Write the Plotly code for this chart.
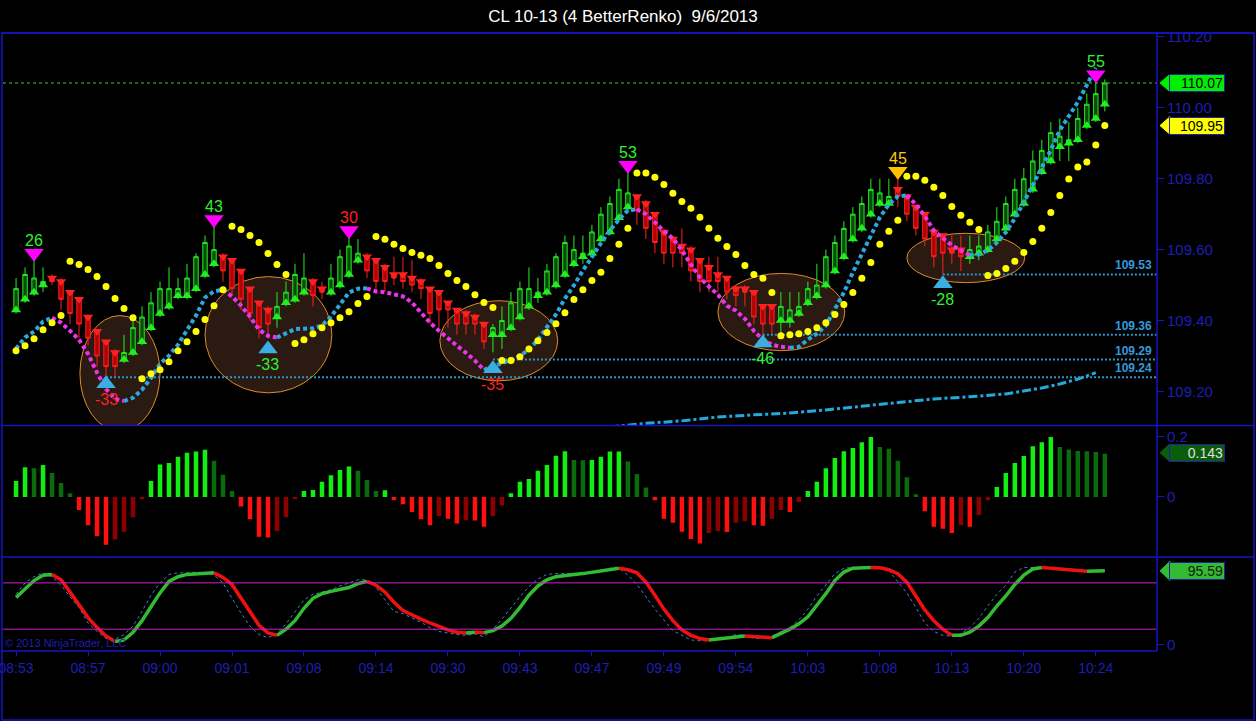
import plotly.graph_objects as go
from plotly.subplots import make_subplots

title = "CL 10-13 (4 BetterRenko)  9/6/2013"
times = ["08:53", "08:57", "09:00", "09:01", "09:08", "09:14", "09:30", "09:43",
         "09:47", "09:49", "09:54", "10:03", "10:08", "10:13", "10:20", "10:24"]
tick_bars = list(range(0, 121, 8))

# renko bars (open, high, low, close)
opens = [109.43, 109.46, 109.48, 109.50, 109.52, 109.51, 109.48, 109.46, 109.41, 109.37,
         109.34, 109.31, 109.29, 109.31, 109.34, 109.38, 109.42, 109.44, 109.47, 109.47,
         109.49, 109.53, 109.56, 109.58, 109.57, 109.54, 109.49, 109.45, 109.43, 109.41,
         109.45, 109.46, 109.48, 109.51, 109.49, 109.48, 109.50, 109.53, 109.57, 109.58,
         109.57, 109.55, 109.53, 109.53, 109.52, 109.51, 109.49, 109.48, 109.45, 109.43,
         109.42, 109.41, 109.39, 109.36, 109.36, 109.38, 109.41, 109.44, 109.47, 109.48,
         109.50, 109.53, 109.56, 109.58, 109.59, 109.63, 109.65, 109.69, 109.72, 109.75,
         109.73, 109.70, 109.65, 109.63, 109.61, 109.60, 109.57, 109.55, 109.53, 109.52,
         109.49, 109.49, 109.48, 109.44, 109.44, 109.40, 109.40, 109.42, 109.45, 109.47,
         109.50, 109.54, 109.58, 109.63, 109.66, 109.70, 109.73, 109.73, 109.77, 109.75,
         109.72, 109.70, 109.65, 109.64, 109.60, 109.60, 109.58, 109.59, 109.60, 109.63,
         109.66, 109.70, 109.73, 109.77, 109.82, 109.85, 109.89, 109.90, 109.91, 109.95,
         109.97, 110.01]
closes = [109.49, 109.53, 109.52, 109.51, 109.51, 109.46, 109.42, 109.39, 109.35, 109.30,
          109.27, 109.27, 109.31, 109.38, 109.41, 109.45, 109.49, 109.49, 109.49, 109.52,
          109.58, 109.62, 109.60, 109.54, 109.49, 109.46, 109.42, 109.38, 109.39, 109.44,
          109.48, 109.53, 109.52, 109.47, 109.48, 109.52, 109.58, 109.61, 109.59, 109.54,
          109.51, 109.51, 109.52, 109.51, 109.50, 109.49, 109.42, 109.43, 109.43, 109.39,
          109.39, 109.39, 109.34, 109.38, 109.40, 109.45, 109.49, 109.49, 109.48, 109.54,
          109.58, 109.62, 109.60, 109.59, 109.65, 109.70, 109.73, 109.77, 109.76, 109.71,
          109.66, 109.62, 109.59, 109.59, 109.59, 109.54, 109.51, 109.51, 109.51, 109.48,
          109.47, 109.48, 109.41, 109.39, 109.39, 109.44, 109.43, 109.44, 109.49, 109.50,
          109.58, 109.62, 109.66, 109.70, 109.73, 109.77, 109.76, 109.75, 109.75, 109.70,
          109.66, 109.63, 109.58, 109.59, 109.59, 109.58, 109.60, 109.61, 109.65, 109.68,
          109.73, 109.77, 109.80, 109.85, 109.88, 109.93, 109.92, 109.91, 109.97, 110.01,
          110.04, 110.07]
highs = [109.52, 109.55, 109.57, 109.55, 109.53, 109.52, 109.48, 109.46, 109.41, 109.37,
         109.34, 109.32, 109.36, 109.41, 109.44, 109.48, 109.51, 109.55, 109.52, 109.56,
         109.59, 109.64, 109.67, 109.59, 109.57, 109.54, 109.49, 109.45, 109.44, 109.48,
         109.51, 109.56, 109.59, 109.52, 109.51, 109.56, 109.60, 109.64, 109.63, 109.59,
         109.57, 109.56, 109.58, 109.58, 109.57, 109.52, 109.49, 109.48, 109.45, 109.43,
         109.43, 109.42, 109.39, 109.39, 109.44, 109.48, 109.51, 109.55, 109.52, 109.56,
         109.59, 109.64, 109.64, 109.64, 109.67, 109.72, 109.75, 109.80, 109.82, 109.75,
         109.74, 109.70, 109.66, 109.63, 109.66, 109.61, 109.57, 109.58, 109.58, 109.52,
         109.50, 109.50, 109.48, 109.44, 109.44, 109.48, 109.48, 109.48, 109.51, 109.56,
         109.60, 109.64, 109.68, 109.72, 109.75, 109.80, 109.80, 109.80, 109.82, 109.75,
         109.72, 109.70, 109.66, 109.64, 109.64, 109.64, 109.64, 109.64, 109.67, 109.72,
         109.75, 109.80, 109.83, 109.88, 109.91, 109.96, 109.97, 109.96, 110.00, 110.04,
         110.08, 110.08]
lows = [109.42, 109.45, 109.47, 109.48, 109.50, 109.43, 109.39, 109.35, 109.33, 109.27,
        109.23, 109.24, 109.28, 109.30, 109.33, 109.37, 109.41, 109.43, 109.46, 109.46,
        109.48, 109.52, 109.55, 109.51, 109.47, 109.43, 109.40, 109.35, 109.35, 109.38,
        109.44, 109.45, 109.47, 109.44, 109.46, 109.47, 109.49, 109.52, 109.56, 109.52,
        109.48, 109.48, 109.50, 109.49, 109.48, 109.46, 109.39, 109.38, 109.38, 109.36,
        109.36, 109.36, 109.32, 109.31, 109.32, 109.37, 109.40, 109.43, 109.45, 109.47,
        109.49, 109.52, 109.55, 109.56, 109.58, 109.62, 109.64, 109.68, 109.71, 109.67,
        109.63, 109.59, 109.56, 109.55, 109.55, 109.51, 109.48, 109.48, 109.48, 109.46,
        109.44, 109.44, 109.39, 109.36, 109.36, 109.36, 109.38, 109.41, 109.44, 109.46,
        109.49, 109.53, 109.57, 109.62, 109.65, 109.69, 109.72, 109.72, 109.72, 109.68,
        109.64, 109.61, 109.55, 109.53, 109.56, 109.54, 109.56, 109.57, 109.59, 109.62,
        109.65, 109.69, 109.72, 109.76, 109.81, 109.84, 109.85, 109.85, 109.90, 109.94,
        109.96, 109.99]

# yellow trailing stop
trail_stop = [109.315, 109.329, 109.349, 109.374, 109.394, 109.414, 109.567, 109.558, 109.544, 109.524,
              109.496, 109.462, 109.434, 109.408, 109.236, 109.250, 109.261, 109.284, 109.315, 109.340,
              109.369, 109.403, 109.442, 109.487, 109.666, 109.657, 109.640, 109.620, 109.589, 109.558,
              109.530, 109.335, 109.346, 109.363, 109.380, 109.394, 109.408, 109.425, 109.448, 109.468,
              109.637, 109.629, 109.615, 109.603, 109.592, 109.584, 109.575, 109.555, 109.533, 109.513,
              109.496, 109.473, 109.451, 109.437, 109.287, 109.287, 109.298, 109.320, 109.343, 109.366,
              109.391, 109.422, 109.459, 109.487, 109.513, 109.536, 109.575, 109.615, 109.660, 109.816,
              109.816, 109.804, 109.784, 109.759, 109.736, 109.717, 109.691, 109.660, 109.632, 109.609,
              109.586, 109.555, 109.530, 109.519, 109.479, 109.357, 109.360, 109.363, 109.369, 109.380,
              109.394, 109.417, 109.445, 109.479, 109.519, 109.564, 109.615, 109.652, 109.683, 109.807,
              109.807, 109.796, 109.776, 109.753, 109.722, 109.697, 109.677, 109.657, 109.527, 109.533,
              109.547, 109.567, 109.592, 109.623, 109.660, 109.705, 109.753, 109.799, 109.833, 109.847,
              109.895, 109.95]

# trend average (cyan rising / magenta falling)
trend_ma = [109.321, 109.352, 109.369, 109.397, 109.408, 109.394, 109.371, 109.346, 109.306, 109.253,
            109.207, 109.179, 109.173, 109.182, 109.205, 109.238, 109.278, 109.301, 109.332, 109.371,
            109.414, 109.465, 109.482, 109.487, 109.468, 109.442, 109.411, 109.374, 109.357, 109.352,
            109.363, 109.376, 109.377, 109.378, 109.386, 109.411, 109.445, 109.479, 109.490, 109.491,
            109.482, 109.480, 109.473, 109.468, 109.451, 109.422, 109.394, 109.371, 109.349, 109.329,
            109.309, 109.287, 109.261, 109.270, 109.281, 109.289, 109.301, 109.318, 109.346, 109.383,
            109.417, 109.462, 109.499, 109.541, 109.581, 109.618, 109.654, 109.685, 109.711, 109.714,
            109.700, 109.677, 109.652, 109.632, 109.598, 109.558, 109.521, 109.496, 109.473, 109.442,
            109.428, 109.405, 109.371, 109.346, 109.332, 109.326, 109.323, 109.326, 109.346, 109.363,
            109.386, 109.431, 109.479, 109.536, 109.589, 109.640, 109.691, 109.728, 109.750, 109.753,
            109.728, 109.694, 109.654, 109.632, 109.612, 109.598, 109.584, 109.586, 109.598, 109.620,
            109.649, 109.688, 109.734, 109.784, 109.830, 109.881, 109.937, 109.977, 110.016, 110.064,
            110.113, None]

# slow average (dash-dot)
slow_bars = [62, 66, 70, 74, 78, 82, 86, 90, 94, 98, 102, 106, 110, 114, 116, 118, 120]
slow_ma = [109.09, 109.10, 109.11, 109.117, 109.128, 109.134, 109.139, 109.148, 109.159,
           109.170, 109.179, 109.185, 109.193, 109.210, 109.221, 109.235, 109.253]

# swing points
swing_hi_bars = [2, 22, 37, 68, 98, 120]
swing_hi_price = [109.59, 109.685, 109.654, 109.838, 109.821, 110.093]
swing_hi_text = ["26", "43", "30", "53", "45", "55"]
swing_hi_text_color = ["#33ee33", "#33ee33", "#ff2222", "#33ee33", "#ffcc00", "#33ee33"]
swing_hi_color = ["#ff00ff", "#ff00ff", "#ff00ff", "#ff00ff", "#ffc000", "#ff00ff"]
swing_lo_bars = [10, 28, 53, 83, 103]
swing_lo_price = [109.222, 109.32, 109.264, 109.337, 109.504]
swing_lo_text = ["-33", "-33", "-35", "-46", "-28"]
swing_lo_text_color = ["#ff2222", "#33ee33", "#ff2222", "#33ee33", "#33ee33"]

# support levels
levels = [109.53, 109.36, 109.29, 109.24]
level_start = [103, 83, 53, 10]

# highlighted zones
zone_bar0 = [7.1, 21.0, 47.1, 78.0, 99.0]
zone_bar1 = [16.0, 35.1, 60.2, 92.1, 112.1]
zone_low = [109.088, 109.196, 109.23, 109.315, 109.507]
zone_high = [109.414, 109.524, 109.456, 109.533, 109.646]

last_price = 110.07
stop_price = 109.95

# momentum histogram
macd_hist = [0.053, 0.098, 0.095, 0.106, 0.079, 0.046, 0.012, -0.043, -0.094, -0.130,
             -0.158, -0.141, -0.115, -0.067, -0.008, 0.053, 0.107, 0.112, 0.133, 0.146,
             0.150, 0.156, 0.120, 0.073, 0.020, -0.032, -0.074, -0.132, -0.134, -0.113,
             -0.067, -0.008, 0.020, 0.023, 0.050, 0.072, 0.089, 0.101, 0.087, 0.056,
             0.020, 0.022, -0.011, -0.024, -0.050, -0.074, -0.094, -0.063, -0.072, -0.088,
             -0.077, -0.078, -0.099, -0.063, -0.028, 0.012, 0.050, 0.059, 0.087, 0.106,
             0.136, 0.151, 0.122, 0.121, 0.122, 0.133, 0.150, 0.150, 0.117, 0.076,
             0.031, -0.011, -0.072, -0.085, -0.115, -0.139, -0.154, -0.119, -0.113, -0.116,
             -0.085, -0.080, -0.094, -0.095, -0.072, -0.043, -0.050, -0.017, 0.020, 0.050,
             0.095, 0.129, 0.151, 0.162, 0.181, 0.198, 0.165, 0.159, 0.120, 0.065,
             0.009, -0.047, -0.099, -0.105, -0.119, -0.094, -0.099, -0.060, -0.011, 0.033,
             0.079, 0.112, 0.135, 0.168, 0.181, 0.198, 0.165, 0.157, 0.152, 0.151,
             0.149, 0.143]

# stochastics
stoch_k = [61, 72, 83, 90, 91, 84, 68, 51, 35, 22,
           11, 4, 6, 16, 31, 49, 67, 82, 88, 91,
           92, 93, 93, 87, 78, 61, 42, 25, 15, 12,
           20, 31, 47, 60, 66, 69, 72, 74, 79, 82,
           77, 68, 55, 44, 38, 33, 28, 23, 19, 16,
           15, 16, 15.5, 18, 24, 34, 48, 64, 76, 84,
           88, 90, 91, 92, 94, 96, 98, 99, 97, 93,
           81, 64, 46, 31, 19, 12, 8, 6, 7, 8,
           10, 11, 10.5, 10, 9, 14, 20, 27, 36, 51,
           66, 83, 94, 99, 99.5, 100, 99.5, 97, 92, 81,
           63, 45, 31, 20, 12, 12, 16, 24, 35, 50,
           63, 78, 90, 98, 100, 99, 98.5, 97, 96, 95,
           95.3, 95.59]
stoch_fast = [65, 80, 88, 93, 88, 77, 62, 48, 28, 17,
              8, 7, 13, 24, 43, 64, 80, 91, 93, 93,
              94, 93, 90, 80, 60, 41, 24, 13, 9, 14,
              27, 43, 58, 65, 68, 71, 76, 80, 84, 84,
              74, 58, 43, 40, 35, 29, 22, 17, 15, 13,
              12, 14, 10, 20, 33, 48, 62, 75, 85, 91,
              92, 92, 92, 93, 94, 96, 99, 99, 90, 78,
              62, 46, 32, 18, 12, 6, 5, 5, 7, 9,
              13, 12, 8, 8, 11, 16, 22, 32, 46, 63,
              78, 92, 99, 100, 100, 100, 100, 96, 82, 67,
              48, 28, 17, 12, 11, 14, 22, 34, 50, 65,
              77, 94, 100, 100, 100, 99, 98, 96, 95, 96,
              96, 97]
stoch_levels = [80, 20]

bars = list(range(len(closes)))
X_MIN, X_MAX = -1.45, 126.8
BLUE = "#1515c8"
TXT = "#1e1eb4"
FONT = "Liberation Sans, Arial"


def slope_runs(xs, ys):
    pts = [(x, y) for x, y in zip(xs, ys) if y is not None]
    runs = {True: ([], []), False: ([], [])}
    k = 1
    while k < len(pts):
        rising = pts[k][1] >= pts[k - 1][1]
        j = k
        while j + 1 < len(pts) and (pts[j + 1][1] >= pts[j][1]) == rising:
            j += 1
        seg = pts[k - 1:j + 1]
        runs[rising][0].extend([p[0] for p in seg] + [None])
        runs[rising][1].extend([p[1] for p in seg] + [None])
        k = j + 1
    return runs


fig = make_subplots(rows=3, cols=1, shared_xaxes=True, vertical_spacing=0.0)

# --- price panel
for lvl, start in zip(levels, level_start):
    fig.add_trace(go.Scatter(x=[start, X_MAX], y=[lvl, lvl], mode="lines",
                             line=dict(color="#2b95c8", width=2, dash="2px,2px")), row=1, col=1)
    fig.add_annotation(x=X_MAX - 0.3, y=lvl, xref="x", yref="y", text="<b>%.2f</b>" % lvl,
                       showarrow=False, xanchor="right", yanchor="bottom",
                       font=dict(color="#3399dd", size=12, family=FONT))

fig.add_trace(go.Scatter(x=slow_bars, y=slow_ma, mode="lines",
                         line=dict(color="#22aadd", width=3, dash="dashdot")), row=1, col=1)

fig.add_trace(go.Candlestick(x=bars, open=opens, high=highs, low=lows, close=closes,
                             increasing=dict(line=dict(color="#22ee22", width=1), fillcolor="#0b4a0b"),
                             decreasing=dict(line=dict(color="#ff2020", width=1), fillcolor="#b00000"),
                             whiskerwidth=0), row=1, col=1)

up_x = [b for b in bars if closes[b] >= opens[b]]
dn_x = [b for b in bars if closes[b] < opens[b]]
fig.add_trace(go.Scatter(x=up_x, y=[opens[b] for b in up_x], mode="markers",
                         marker=dict(symbol="triangle-up", size=9, color="#22ee22")), row=1, col=1)
fig.add_trace(go.Scatter(x=dn_x, y=[opens[b] for b in dn_x], mode="markers",
                         marker=dict(symbol="triangle-down", size=9, color="#ff2020")), row=1, col=1)

runs = slope_runs(bars, trend_ma)
fig.add_trace(go.Scatter(x=runs[True][0], y=runs[True][1], mode="lines",
                         line=dict(color="#2aa8e0", width=4, dash="4px,3px")), row=1, col=1)
fig.add_trace(go.Scatter(x=runs[False][0], y=runs[False][1], mode="lines",
                         line=dict(color="#ee33ee", width=4, dash="4px,3px")), row=1, col=1)

fig.add_trace(go.Scatter(x=bars, y=trail_stop, mode="markers",
                         marker=dict(color="#ffff00", size=7)), row=1, col=1)

fig.add_trace(go.Scatter(x=swing_hi_bars, y=swing_hi_price, mode="markers",
                         marker=dict(symbol="triangle-down", size=17, color=swing_hi_color)),
              row=1, col=1)
fig.add_trace(go.Scatter(x=swing_lo_bars, y=swing_lo_price, mode="markers",
                         marker=dict(symbol="triangle-up", size=17, color="#3aaee0")),
              row=1, col=1)
for b, p, t, c in zip(swing_hi_bars, swing_hi_price, swing_hi_text, swing_hi_text_color):
    fig.add_annotation(x=b, y=p, xref="x", yref="y", text=t, showarrow=False, yshift=13,
                       font=dict(color=c, size=16, family=FONT))
for b, p, t, c in zip(swing_lo_bars, swing_lo_price, swing_lo_text, swing_lo_text_color):
    fig.add_annotation(x=b, y=p, xref="x", yref="y", text=t, showarrow=False, yshift=-16,
                       font=dict(color=c, size=16, family=FONT))

# --- histogram panel
hist_colors = []
prev = 0
for v in macd_hist:
    if v >= 0:
        hist_colors.append("#11ee11" if v >= prev else "#0b6a0b")
    else:
        hist_colors.append("#ff1010" if v <= prev else "#8e0000")
    prev = v
fig.add_trace(go.Bar(x=bars, y=macd_hist, marker=dict(color=hist_colors, line=dict(width=0)),
                     width=0.5), row=2, col=1)

# --- stochastics panel
fig.add_trace(go.Scatter(x=bars, y=stoch_fast, mode="lines",
                         line=dict(color="#3f7fd0", width=1, dash="dot")), row=3, col=1)
sruns = slope_runs(bars, stoch_k)
fig.add_trace(go.Scatter(x=sruns[True][0], y=sruns[True][1], mode="lines",
                         line=dict(color="#33bb33", width=3.5)), row=3, col=1)
fig.add_trace(go.Scatter(x=sruns[False][0], y=sruns[False][1], mode="lines",
                         line=dict(color="#ee1111", width=3.5)), row=3, col=1)

shapes = []
for b0, b1, lo, hi in zip(zone_bar0, zone_bar1, zone_low, zone_high):
    shapes.append(dict(type="circle", xref="x", yref="y", x0=b0, x1=b1, y0=lo, y1=hi,
                       line=dict(color="#e08a2a", width=1), fillcolor="rgba(190,120,80,0.22)",
                       layer="below"))
shapes.append(dict(type="line", xref="paper", yref="y", x0=0, x1=1, y0=last_price, y1=last_price,
                   line=dict(color="#44cc44", width=1, dash="dot")))
for lvl in stoch_levels:
    shapes.append(dict(type="line", xref="paper", yref="y3", x0=0, x1=1, y0=lvl, y1=lvl,
                       line=dict(color="#cc22cc", width=1)))

# frame
xl, xr = -0.0009, 1.0841
for yp in [1.0, 0.3649, 0.1521]:
    shapes.append(dict(type="line", xref="paper", yref="paper", x0=xl, x1=xr, y0=yp, y1=yp,
                       line=dict(color=BLUE, width=1.5)))
shapes.append(dict(type="line", xref="paper", yref="paper", x0=xl, x1=1.0, y0=0, y1=0,
                   line=dict(color=BLUE, width=1.5)))
shapes.append(dict(type="line", xref="paper", yref="paper", x0=1.0, x1=1.0, y0=0, y1=1,
                   line=dict(color=BLUE, width=1.5)))
shapes.append(dict(type="rect", xref="paper", yref="paper", x0=xl, x1=xr, y0=-0.1117, y1=1.0,
                   line=dict(color=BLUE, width=1.5)))


def tag(yref, v, h, fill, txt_color, txt):
    x0, x1 = 1.0026, 1.0113
    path = "M %f,%f L %f,%f L %f,%f Z" % (x0, v, x1, v + h, x1, v - h)
    shapes.append(dict(type="path", xref="paper", yref=yref, path=path, fillcolor=fill,
                       line=dict(color=fill, width=1)))
    fig.add_annotation(x=x1 - 0.0005, y=v, xref="paper", yref=yref, text=txt, showarrow=False,
                       xanchor="left", yanchor="middle", width=52, height=14, align="right",
                       bgcolor=fill, bordercolor="#2020a0", borderwidth=1, borderpad=1,
                       font=dict(color=txt_color, size=14, family=FONT))


tag("y", last_price, 0.025, "#00ee00", "#000000", "%.2f" % last_price)
tag("y", stop_price, 0.025, "#ffff00", "#000000", "%.2f" % stop_price)
tag("y2", macd_hist[-1] + 0.003, 0.03, "#0b5d0b", "#e0e0e0", "%.3f" % macd_hist[-1])
tag("y3", stoch_k[-1], 12.5, "#33bb33", "#102010", "%.2f" % stoch_k[-1])

fig.add_annotation(x=0, y=0.013, xref="paper", yref="paper", text="© 2013 NinjaTrader, LLC",
                   showarrow=False, xanchor="left", yanchor="middle",
                   font=dict(color=TXT, size=11, family=FONT))

fig.update_layout(
    width=1256, height=721,
    margin=dict(l=3, r=99, t=33, b=70, autoexpand=False),
    paper_bgcolor="black", plot_bgcolor="black",
    showlegend=False,
    shapes=shapes,
    font=dict(family=FONT),
    title=dict(text=title, x=0.496, xref="container", y=0.978, yref="container",
               xanchor="center", yanchor="middle", font=dict(color="white", size=17, family=FONT)),
)
fig.update_xaxes(range=[X_MIN, X_MAX], showgrid=False, zeroline=False, showline=False,
                 rangeslider_visible=False, showticklabels=False, automargin=False)
fig.update_xaxes(row=3, col=1, showticklabels=True, tickvals=tick_bars, ticktext=times,
                 ticks="outside", ticklen=4, tickcolor=BLUE, ticklabeloverflow="allow",
                 tickfont=dict(color=TXT, size=14, family=FONT))
axis_common = dict(side="right", showgrid=False, zeroline=False, showline=False, automargin=False,
                   ticks="outside", ticklen=6, tickcolor=BLUE,
                   tickfont=dict(color=TXT, size=15, family=FONT))
fig.update_yaxes(row=1, col=1, domain=[0.3649, 1.0], range=[109.104, 110.211],
                 tickvals=[109.2, 109.4, 109.6, 109.8, 110.0, 110.2], tickformat=".2f", **axis_common)
fig.update_yaxes(row=2, col=1, domain=[0.1529, 0.3633], range=[-0.197, 0.233],
                 tickvals=[0, 0.2], **axis_common)
fig.update_yaxes(row=3, col=1, domain=[0.0, 0.1513], range=[-8.3, 112.9],
                 tickvals=[0], **axis_common)

fig.write_html("out.html", config={"displayModeBar": False},
               post_script="document.body.style.margin='0';document.body.style.padding='0';")
